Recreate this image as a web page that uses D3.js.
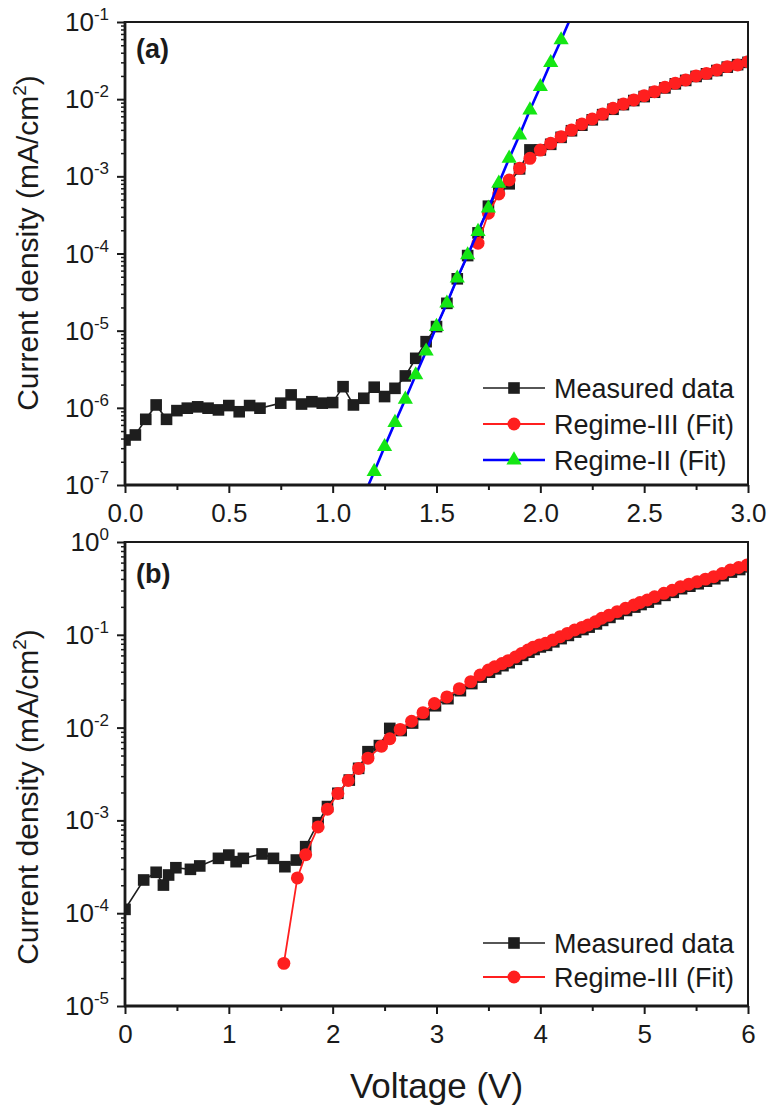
<!DOCTYPE html>
<html><head><meta charset="utf-8">
<script src="https://cdn.jsdelivr.net/npm/d3@7"></script>
<style>
body{margin:0;background:#fff;}
text{font-family:"Liberation Sans",Arial,Helvetica,sans-serif;fill:#1a1a1a;}
</style>
</head><body>
<svg id="c" width="770" height="1111"></svg>
<script>
// ---------------- DATA ----------------
// Panel (a)
const measuredA_V = [0.00,0.05,0.10,0.15,0.20,0.25,0.30,0.35,0.40,0.45,0.50,0.55,0.60,0.65,0.75,0.80,0.85,0.90,0.95,1.00,1.05,1.10,1.15,1.20,1.25,1.30,1.35,1.40,1.45,1.50,1.55,1.60,1.65,1.70,1.75,1.80,1.85,1.90,1.95,2.00,2.05,2.10,2.15,2.20,2.25,2.30,2.35,2.40,2.45,2.50,2.55,2.60,2.65,2.70,2.75,2.80,2.85,2.90,2.95,3.00];
const measuredA_J = [3.83e-7,4.45e-7,7.1e-7,1.09e-6,7.1e-7,9.2e-7,9.9e-7,1.03e-6,9.9e-7,9.4e-7,1.07e-6,8.9e-7,1.07e-6,9.9e-7,1.15e-6,1.47e-6,1.12e-6,1.2e-6,1.15e-6,1.17e-6,1.88e-6,1.09e-6,1.33e-6,1.85e-6,1.4e-6,1.79e-6,2.59e-6,4.38e-6,7.2e-6,1.13e-5,2.26e-5,4.7e-5,9.4e-5,1.85e-4,4.1e-4,6.6e-4,8.0e-4,1.25e-3,2.2e-3,2.2e-3,2.6e-3,3.2e-3,3.9e-3,4.6e-3,5.4e-3,6.3e-3,7.4e-3,8.5e-3,9.6e-3,1.08e-2,1.23e-2,1.40e-2,1.58e-2,1.75e-2,1.97e-2,2.13e-2,2.35e-2,2.60e-2,2.80e-2,3.0e-2];

const regime3A_V = [1.70,1.75,1.80,1.85,1.90,1.95,2.00,2.05,2.10,2.15,2.20,2.25,2.30,2.35,2.40,2.45,2.50,2.55,2.60,2.65,2.70,2.75,2.80,2.85,2.90,2.95,3.00];
const regime3A_J = [1.36e-4,3.32e-4,5.9e-4,8.97e-4,1.27e-3,1.71e-3,2.19e-3,2.68e-3,3.27e-3,3.98e-3,4.76e-3,5.53e-3,6.43e-3,7.62e-3,8.65e-3,9.75e-3,1.11e-2,1.25e-2,1.43e-2,1.61e-2,1.77e-2,2.0e-2,2.16e-2,2.39e-2,2.64e-2,2.77e-2,3.06e-2];

const regime2A_V = [1.15,1.20,1.25,1.30,1.35,1.40,1.45,1.50,1.55,1.60,1.65,1.70,1.75,1.80,1.85,1.90,1.95,2.00,2.05,2.10,2.15];
const regime2A_J = [7.2e-8,1.49e-7,3.14e-7,6.43e-7,1.29e-6,2.67e-6,5.42e-6,1.13e-5,2.27e-5,4.78e-5,9.57e-5,1.92e-4,3.86e-4,8.13e-4,1.71e-3,3.43e-3,7.24e-3,1.45e-2,2.97e-2,5.85e-2,1.2e-1];

// Panel (b)
const measuredB_V = [0,0.18,0.30,0.37,0.42,0.49,0.63,0.72,0.90,1.00,1.07,1.14,1.32,1.43,1.54,1.65,1.74,1.86,1.95,2.05,2.16,2.25,2.34,2.45,2.55,2.66,2.77,2.88,2.99,3.11,3.23,3.34,3.43,3.51,3.57,3.64,3.70,3.77,3.83,3.89,3.94,4.00,4.06,4.13,4.20,4.27,4.34,4.41,4.47,4.54,4.60,4.67,4.75,4.83,4.91,4.97,5.04,5.11,5.20,5.28,5.36,5.44,5.52,5.60,5.68,5.76,5.84,5.92,6.00];
const measuredB_J = [1.10e-4,2.28e-4,2.76e-4,2.01e-4,2.58e-4,3.09e-4,2.97e-4,3.23e-4,3.9e-4,4.23e-4,3.59e-4,3.9e-4,4.35e-4,3.9e-4,3.17e-4,3.74e-4,5.21e-4,9.44e-4,1.41e-3,1.96e-3,2.72e-3,3.64e-3,5.5e-3,6.4e-3,9.8e-3,9.3e-3,1.12e-2,1.38e-2,1.72e-2,2.05e-2,2.5e-2,2.98e-2,3.5e-2,3.95e-2,4.3e-2,4.65e-2,5.0e-2,5.45e-2,6.0e-2,6.5e-2,6.95e-2,7.4e-2,7.7e-2,8.4e-2,9.1e-2,9.85e-2,0.107,0.114,0.121,0.131,0.143,0.154,0.168,0.183,0.199,0.212,0.225,0.244,0.266,0.287,0.314,0.334,0.355,0.378,0.402,0.434,0.474,0.505,0.54];

const regime3B_V = [1.53,1.66,1.74,1.86,1.95,2.05,2.15,2.25,2.34,2.47,2.55,2.65,2.76,2.87,2.98,3.10,3.22,3.33,3.42,3.50,3.56,3.63,3.69,3.76,3.82,3.88,3.93,3.99,4.05,4.12,4.19,4.26,4.33,4.40,4.46,4.53,4.59,4.66,4.74,4.82,4.90,4.96,5.03,5.10,5.19,5.27,5.35,5.43,5.51,5.59,5.67,5.75,5.83,5.91,5.99];
const regime3B_J = [2.88e-5,2.40e-4,4.27e-4,8.51e-4,1.32e-3,1.95e-3,2.69e-3,3.63e-3,4.68e-3,6.31e-3,7.59e-3,9.55e-3,1.17e-2,1.45e-2,1.82e-2,2.14e-2,2.63e-2,3.13e-2,3.69e-2,4.17e-2,4.53e-2,4.90e-2,5.26e-2,5.75e-2,6.31e-2,6.84e-2,7.33e-2,7.76e-2,8.09e-2,8.81e-2,9.55e-2,0.1035,0.1127,0.1202,0.1276,0.138,0.1507,0.162,0.1774,0.1928,0.2094,0.2228,0.2371,0.257,0.28,0.302,0.33,0.351,0.373,0.398,0.423,0.457,0.499,0.531,0.565];

// Ticks / labels
const xTicksA = [0,0.5,1.0,1.5,2.0,2.5,3.0];
const xMinorA = [0.25,0.75,1.25,1.75,2.25,2.75];
const yExpA = [-7,-6,-5,-4,-3,-2,-1];
const xTicksB = [0,1,2,3,4,5,6];
const xMinorB = [0.5,1.5,2.5,3.5,4.5,5.5];
const yExpB = [-5,-4,-3,-2,-1,0];
const legendA = ["Measured data","Regime-III (Fit)","Regime-II (Fit)"];
const legendB = ["Measured data","Regime-III (Fit)"];
const yTitle = "Current density (mA/cm";
const xTitle = "Voltage (V)";

// ---------------- DRAW ----------------
const svg = d3.select("#c");
const RED = "#ff1f1f", GREEN = "#14e614", BLUE = "#0000ff", BLK = "#1e1e1e";
const styles = {
  measured: {line: BLK, lw: 1.6, fill: BLK, sym: d3.symbolSquare, size: 135},
  reg3: {line: RED, lw: 1.8, fill: RED, sym: d3.symbolCircle, size: 132},
  reg2: {line: BLUE, lw: 2.6, fill: GREEN, sym: d3.symbolTriangle, size: 100}
};

function panel(p) {
  const g = svg.append("g");
  const x = p.x, y = p.y;
  const [x0, x1] = x.range(), [yb, yt] = y.range();
  const id = "clip" + p.name;
  svg.append("clipPath").attr("id", id).append("rect")
    .attr("x", x0).attr("y", yt).attr("width", x1 - x0).attr("height", yb - yt);

  // series
  p.series.forEach(s => {
    const st = styles[s.style];
    const data = d3.zip(s.V, s.J);
    const sg = g.append("g").attr("clip-path", `url(#${id})`);
    sg.append("path").datum(data)
      .attr("d", d3.line().x(d => x(d[0])).y(d => y(d[1])))
      .attr("fill", "none").attr("stroke", st.line).attr("stroke-width", st.lw);
    sg.selectAll("path.m").data(data.filter(d => d[1] <= y.domain()[1] && d[1] >= y.domain()[0]))
      .join("path").attr("class", "m")
      .attr("transform", d => `translate(${x(d[0])},${y(d[1])})`)
      .attr("d", d3.symbol(st.sym, st.size)())
      .attr("fill", st.fill);
  });

  // x axis
  const ax = g.append("g").attr("transform", `translate(0,${yb})`)
    .call(d3.axisBottom(x).tickValues(p.xTicks).tickSize(8).tickPadding(11).tickFormat(p.xFmt));
  ax.select(".domain").remove();
  ax.selectAll("line").attr("stroke", "#1a1a1a").attr("stroke-width", 2);
  ax.selectAll("text").attr("font-size", 26).attr("fill", "#1a1a1a").attr("font-family", null);
  const axm = g.append("g").attr("transform", `translate(0,${yb})`)
    .call(d3.axisBottom(x).tickValues(p.xMinor).tickSize(5).tickFormat(""));
  axm.select(".domain").remove();
  axm.selectAll("line").attr("stroke", "#1a1a1a").attr("stroke-width", 2);

  // y axis
  const majors = p.yExp.map(e => Math.pow(10, e));
  const ay = g.append("g").attr("transform", `translate(${x0},0)`)
    .call(d3.axisLeft(y).tickValues(majors).tickSize(8).tickFormat(""));
  ay.select(".domain").remove();
  ay.selectAll("line").attr("stroke", "#1a1a1a").attr("stroke-width", 2);
  const minors = [];
  p.yExp.slice(0, -1).forEach(e => { for (let k = 2; k <= 9; k++) minors.push(k * Math.pow(10, e)); });
  const aym = g.append("g").attr("transform", `translate(${x0},0)`)
    .call(d3.axisLeft(y).tickValues(minors).tickSize(4).tickFormat(""));
  aym.select(".domain").remove();
  aym.selectAll("line").attr("stroke", "#1a1a1a").attr("stroke-width", 1.5);
  p.yExp.forEach(e => {
    const t = g.append("text").attr("x", 109).attr("y", y(Math.pow(10, e)) + 9)
      .attr("text-anchor", "end").attr("font-size", 26);
    t.append("tspan").text("10");
    t.append("tspan").attr("font-size", 17).attr("dy", -11).text(e < 0 ? "-" + Math.abs(e) : String(e));
  });

  // frame
  g.append("rect").attr("x", x0).attr("y", yt).attr("width", x1 - x0).attr("height", yb - yt)
    .attr("fill", "none").attr("stroke", "#1a1a1a").attr("stroke-width", 2);
  g.append("line").attr("x1", x0).attr("x2", x0).attr("y1", yt - 1).attr("y2", yb + 1)
    .attr("stroke", "#1a1a1a").attr("stroke-width", 2.8);
  g.append("line").attr("x1", x0 - 1).attr("x2", x1 + 1).attr("y1", yb).attr("y2", yb)
    .attr("stroke", "#1a1a1a").attr("stroke-width", 2.8);

  // panel label
  g.append("text").attr("x", 136).attr("y", p.labelY).attr("font-size", 27)
    .attr("font-weight", "bold").text(p.label);

  // y title
  const yt2 = g.append("text").attr("transform", `translate(38,${p.titleY}) rotate(-90)`)
    .attr("text-anchor", "middle").attr("font-size", 30);
  yt2.append("tspan").text(yTitle);
  yt2.append("tspan").attr("font-size", 19).attr("dy", -12).text("2");
  yt2.append("tspan").attr("dy", 12).text(")");

  // legend
  p.legend.forEach((name, i) => {
    const st = styles[p.series[i].style];
    const ly = p.legendY[i];
    g.append("line").attr("x1", 483).attr("x2", 545).attr("y1", ly).attr("y2", ly)
      .attr("stroke", st.line).attr("stroke-width", st.lw);
    g.append("path").attr("transform", `translate(514,${ly})`)
      .attr("d", d3.symbol(st.sym, st.size)()).attr("fill", st.fill);
    g.append("text").attr("x", 554).attr("y", ly + 9.5).attr("font-size", 27).text(name);
  });
}

panel({
  name: "A",
  x: d3.scaleLinear([0, 3], [125, 748]),
  y: d3.scaleLog([1e-7, 1e-1], [485, 22]),
  xTicks: xTicksA, xMinor: xMinorA, xFmt: d3.format(".1f"), yExp: yExpA,
  series: [
    {V: measuredA_V, J: measuredA_J, style: "measured"},
    {V: regime3A_V, J: regime3A_J, style: "reg3"},
    {V: regime2A_V, J: regime2A_J, style: "reg2"}
  ],
  legend: legendA, legendY: [388, 424, 460],
  label: "(a)", labelY: 58, titleY: 243
});

panel({
  name: "B",
  x: d3.scaleLinear([0, 6], [125, 748]),
  y: d3.scaleLog([1e-5, 1], [1006, 542]),
  xTicks: xTicksB, xMinor: xMinorB, xFmt: d3.format("d"), yExp: yExpB,
  series: [
    {V: measuredB_V, J: measuredB_J, style: "measured"},
    {V: regime3B_V, J: regime3B_J, style: "reg3"}
  ],
  legend: legendB, legendY: [943, 977],
  label: "(b)", labelY: 583, titleY: 797
});

svg.append("text").attr("x", 436.5).attr("y", 1098).attr("text-anchor", "middle")
  .attr("font-size", 35).text(xTitle);
</script>
</body></html>
